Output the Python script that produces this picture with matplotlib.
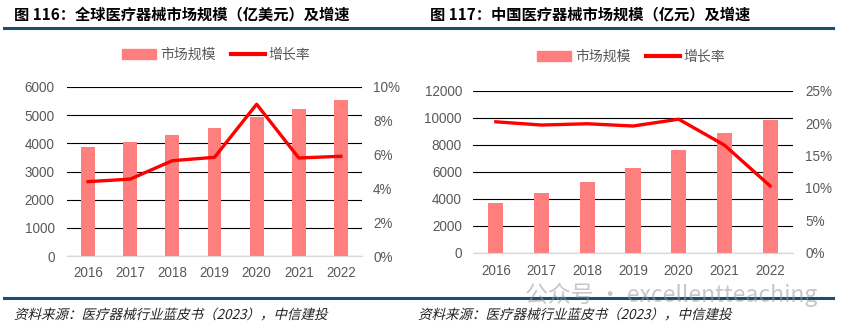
import numpy as np
import matplotlib
matplotlib.use("Agg")
import matplotlib.pyplot as plt
from matplotlib.patches import Patch, PathPatch
from matplotlib.lines import Line2D
from matplotlib.textpath import TextPath
from matplotlib.font_manager import FontProperties
from matplotlib.transforms import Affine2D, IdentityTransform
from matplotlib.ticker import PercentFormatter

plt.rcParams['font.family'] = ['Noto Sans CJK SC', 'DejaVu Sans']

years = ['2016', '2017', '2018', '2019', '2020', '2021', '2022']

# global market, 100M USD
global_size = [3880, 4050, 4290, 4540, 4950, 5230, 5540]
global_growth = [4.4, 4.55, 5.64, 5.84, 8.98, 5.8, 5.9]

# China market, 100M CNY
china_size = [3660, 4400, 5260, 6300, 7610, 8890, 9830]
china_growth = [20.2, 19.7, 19.9, 19.55, 20.6, 16.6, 10.3]

titles = ['图 116：全球医疗器械市场规模（亿美元）及增速',
          '图 117：中国医疗器械市场规模（亿元）及增速']
source = '资料来源：医疗器械行业蓝皮书（2023），中信建投'

BAR = '#FF7F7F'
LINE = '#FF0000'
NAVY = '#1B4F72'
GREY = '#595959'
tick_font = ['Liberation Sans', 'DejaVu Sans']

W, H = 849, 331
fig = plt.figure(figsize=(W / 100, H / 100), dpi=100)


def px(x0, y0, x1, y1):
    return [x0 / W, 1 - y1 / H, (x1 - x0) / W, (y1 - y0) / H]


def panel(rect, size, growth, ymax, ystep, gmax, gstep, lpad, rpad, xpad):
    ax = fig.add_axes(rect)
    x = np.arange(len(years))
    ax.bar(x, size, width=0.33, color=BAR, zorder=2)
    ax.set_xlim(-0.5, len(years) - 0.5)
    ax.set_ylim(0, ymax)
    ax.set_yticks(np.arange(0, ymax + 1, ystep))
    ax.grid(axis='y', color='black', lw=0.8, zorder=0)
    ax.set_axisbelow(True)
    for s in ['top', 'left', 'right']:
        ax.spines[s].set_visible(False)
    ax.spines['bottom'].set_color('#D9D9D9')
    ax.spines['bottom'].set_zorder(3)
    ax.set_xticks(x)
    ax.set_xticklabels(years)
    ax.tick_params(axis='x', length=0, pad=xpad, labelsize=9.75, labelcolor=GREY)
    ax.tick_params(axis='y', length=0, pad=lpad, labelsize=9.75, labelcolor=GREY)
    ax2 = ax.twinx()
    ax2.plot(x, growth, color=LINE, lw=2.4, zorder=4)
    ax2.set_ylim(0, gmax)
    ax2.set_yticks(np.arange(0, gmax + 0.01, gstep))
    ax2.yaxis.set_major_formatter(PercentFormatter(decimals=0))
    ax2.tick_params(axis='y', length=0, pad=rpad, labelsize=9.75, labelcolor=GREY)
    for s in ax2.spines.values():
        s.set_visible(False)
    for lab in ax.get_xticklabels() + ax.get_yticklabels() + ax2.get_yticklabels():
        lab.set_family(tick_font)
    return ax


panel(px(67, 87, 362, 256), global_size, global_growth, 6000, 1000, 10, 2, 9, 8, 7.5)
panel(px(473, 90.7, 793, 252.7), china_size, china_growth, 12000, 2000, 25, 5, 8, 9, 8)

handles = [Patch(color=BAR), Line2D([], [], color=LINE, lw=3)]
labels = ['市场规模', '增长率']
for cx, cy in [(216, 55), (631, 57)]:
    fig.legend(handles, labels, loc='center', bbox_to_anchor=(cx / W, 1 - cy / H),
               ncol=2, frameon=False, fontsize=10, handlelength=2.5,
               handleheight=0.75, handletextpad=0.25, columnspacing=1.1,
               labelcolor=GREY)

# titles and rules
for x0, x1, t in [(4, 418, titles[0]), (420, 833, titles[1])]:
    fig.text((x0 + 10) / W, 1 - 14 / H, t, fontsize=11, weight='bold',
             va='center', ha='left', color='black')
    fig.add_artist(Line2D([x0 / W, x1 / W], [1 - 27.5 / H] * 2, color=NAVY, lw=2.2))
    fig.add_artist(Line2D([x0 / W, x1 / W], [1 - 298 / H] * 2, color=NAVY, lw=2.2))

# slanted source notes
fp = FontProperties(family='Noto Sans CJK SC')
for x0 in [14, 418]:
    tp = TextPath((0, 0), source, size=13.5, prop=fp)
    tr = Affine2D().skew_deg(14, 0).translate(x0, H - 319) + IdentityTransform()
    fig.add_artist(PathPatch(tp, transform=tr, color='#222222', lw=0))

fig.text(525 / W, 1 - 295 / H, '公众号 · excellentteaching', fontsize=16.5,
         color='#9A9A9A', alpha=0.55, va='center', ha='left')

fig.savefig('out.png', dpi=100)
